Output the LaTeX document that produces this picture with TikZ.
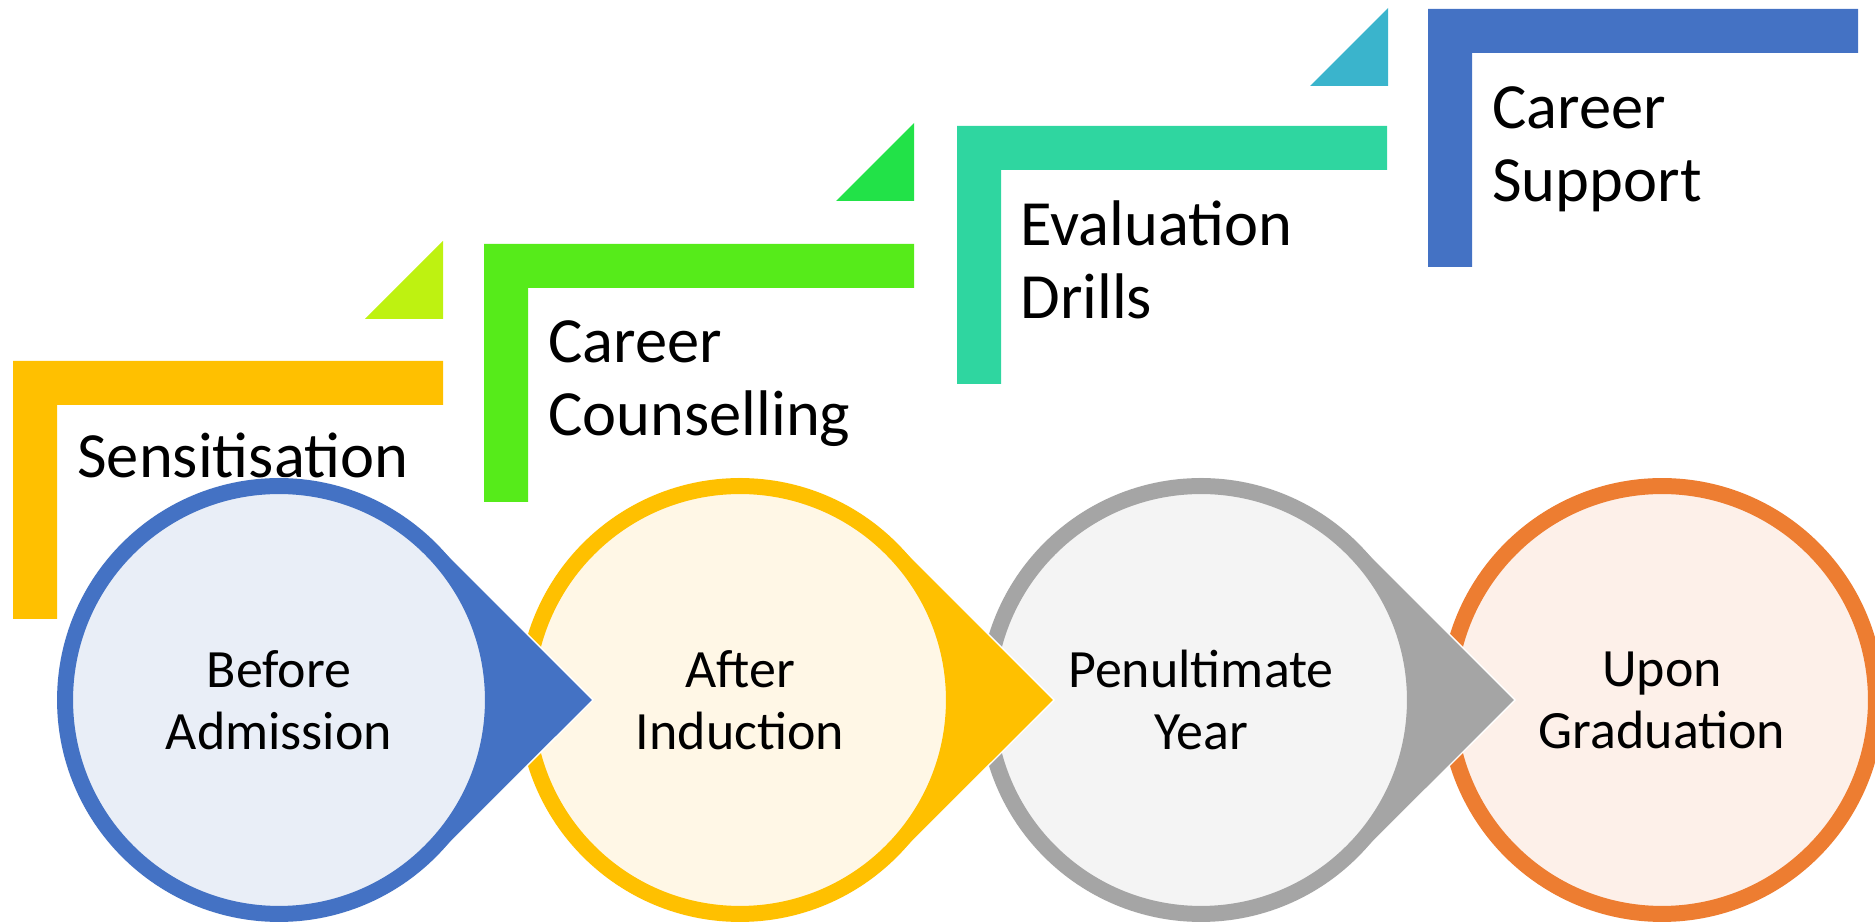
\documentclass[tikz,border=0pt]{standalone}
\usepackage{fontspec}
\setmainfont{Carlito}
\usepackage{tikz}
\usetikzlibrary{positioning}

\definecolor{ringblue}{HTML}{4472C4}
\definecolor{ringyellow}{HTML}{FFC000}
\definecolor{ringgrey}{HTML}{A5A5A5}
\definecolor{ringorange}{HTML}{ED7D31}
\definecolor{fillblue}{HTML}{E9EEF7}
\definecolor{fillyellow}{HTML}{FFF7E6}
\definecolor{fillgrey}{HTML}{F4F4F4}
\definecolor{fillorange}{HTML}{FDF0E9}
\definecolor{bargreen}{HTML}{56EB1A}
\definecolor{barteal}{HTML}{2FD6A0}
\definecolor{cornerlime}{HTML}{BEF211}
\definecolor{cornergreen}{HTML}{22E248}
\definecolor{cornercyan}{HTML}{3AB4CC}

\tikzset{
  phase/.style={circle, minimum size=8.56cm, line width=0.32cm, inner sep=0pt,
    align=center, font=\fontsize{30.7}{35.3}\selectfont},
  pointer/.style={draw=white, line width=0.8pt},
  milestone/.style={anchor=base west, align=left, inner sep=0pt,
    font=\fontsize{36.7}{42.1}\selectfont}
}

\begin{document}
\begin{tikzpicture}[x=0.02cm, y=0.02cm]
    \useasboundingbox (0,0) rectangle (1875,922);

    % brackets and their corner triangles
    \foreach \x/\y/\c in {13/561/ringyellow, 484/678/bargreen, 957/796/barteal, 1428/913/ringblue}
        \fill[\c] (\x,\y) -- ++(430,0) -- ++(0,-44) -- ++(-386,0) -- ++(0,-214) -- ++(-44,0) -- cycle;
    \foreach \x/\y/\c in {443/603/cornerlime, 914/721/cornergreen, 1388/836/cornercyan}
        \fill[\c] (\x,\y) -- ++(0,78) -- ++(-78,-78) -- cycle;

    \node[milestone] (sens) at (77,444) {Sensitisation};
    \node[milestone] (couns) at (548,486) {Career\\Counselling};
    \node[milestone] (drills) at (1020,603) {Evaluation\\Drills};
    \node[milestone] (support) at (1492,720) {Career\\Support};

    % stages, right to left so each pointer lies on the next circle
    \node[phase, draw=ringorange, fill=fillorange] (upon) at (1662,222) {Upon\\Graduation};

    \filldraw[pointer, fill=ringgrey] (1201,222) ++(314,0) -- ++(-157,157) arc[start angle=45, end angle=315, radius=222] -- cycle;
    \node[phase, draw=ringgrey, fill=fillgrey] (penult) at (1201,222) {Penultimate\\Year};

    \filldraw[pointer, fill=ringyellow] (740,222) ++(314,0) -- ++(-157,157) arc[start angle=45, end angle=315, radius=222] -- cycle;
    \node[phase, draw=ringyellow, fill=fillyellow] (after) at (740,222) {After\\Induction};

    \filldraw[pointer, fill=ringblue] (279,222) ++(314,0) -- ++(-157,157) arc[start angle=45, end angle=315, radius=222] -- cycle;
    \node[phase, draw=ringblue, fill=fillblue] (before) at (279,222) {Before\\Admission};
\end{tikzpicture}
\end{document}
